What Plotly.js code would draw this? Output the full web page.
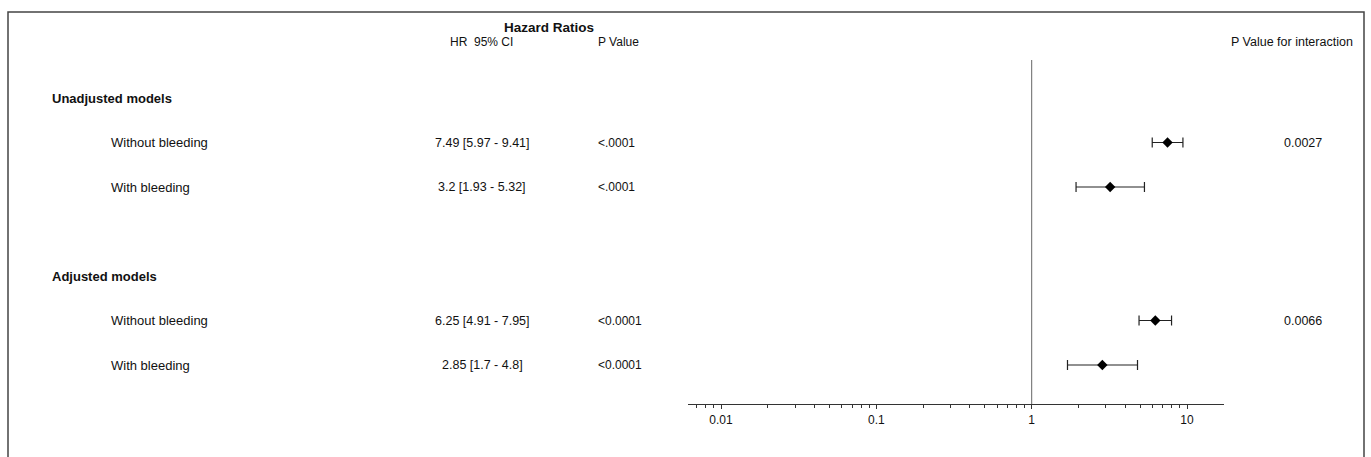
<!DOCTYPE html>
<html>
<head>
<meta charset="utf-8">
<script src="https://cdn.plot.ly/plotly-3.0.1.min.js"></script>
<style>html,body{margin:0;padding:0;background:#fff}#chart{width:1371px;height:457px}</style>
</head>
<body>
<div id="chart"></div>
<script>
// ---- data ----
const groups = ["Unadjusted models", "Adjusted models"];
const rowLabels = ["Without bleeding", "With bleeding", "Without bleeding", "With bleeding"];
const rowGroup = [0, 0, 1, 1];
const hr = [7.49, 3.2, 6.25, 2.85];
const ciLow = [5.97, 1.93, 4.91, 1.7];
const ciHigh = [9.41, 5.32, 7.95, 4.8];
const ciText = ["7.49 [5.97 - 9.41]", "3.2 [1.93 - 5.32]", "6.25 [4.91 - 7.95]", "2.85 [1.7 - 4.8]"];
const pValues = ["<.0001", "<.0001", "<0.0001", "<0.0001"];
const pInteraction = ["0.0027", "", "0.0066", ""];
const tickVals = [0.01, 0.1, 1, 10];
const tickLabels = ["0.01", "0.1", "1", "10"];
const refValue = 1;

// ---- layout helpers ----
const W = 1371, H = 457;
const px = v => v / W;
const groupRow = [0, 4];
const rowPos = [1, 2, 5, 6];

const FONT = "Liberation Sans, Arial, sans-serif";
const annotations = [];
function txt(text, x, y, anchor, size, bold, yref) {
  annotations.push({
    text: bold ? "<b>" + text + "</b>" : text,
    x: px(x), xref: "paper", y: y, yref: yref || "y",
    xanchor: anchor, yanchor: "middle", showarrow: false,
    font: {family: FONT, size: size, color: "#111"}
  });
}
// headers (paper y)
txt("Hazard Ratios", 549, 1 - 28 / H, "center", 13.5, true, "paper");
txt("HR  95% CI", 481, 1 - 42 / H, "center", 12, false, "paper");
txt("P Value", 596, 1 - 42 / H, "left", 12, false, "paper");
txt("P Value for interaction", 1355, 1 - 42 / H, "right", 12.5, false, "paper");

groups.forEach((g, i) => txt(g, 50, groupRow[i], "left", 13, true));
rowLabels.forEach((l, i) => {
  txt(l, 109, rowPos[i], "left", 13, false);
  txt(ciText[i], 482, rowPos[i], "center", 12.5, false);
  txt(pValues[i], 596, rowPos[i], "left", 12, false);
  if (pInteraction[i]) txt(pInteraction[i], 1303, rowPos[i], "center", 12.5, false);
});

const trace = {
  type: "scatter", mode: "markers",
  x: hr, y: rowPos,
  marker: {symbol: "diamond", size: 8, color: "#000"},
  error_x: {
    type: "data", symmetric: false,
    array: hr.map((v, i) => ciHigh[i] - v),
    arrayminus: hr.map((v, i) => v - ciLow[i]),
    color: "#222", thickness: 1.2, width: 5
  },
  hoverinfo: "x+y", showlegend: false
};

const yTop = -98 / 44.5, yBottom = 6 + (H - 365) / 44.5;
const axisY = 6 + (404 - 365) / 44.5;
const refTop = -(98 - 60) / 44.5;

const layout = {
  width: W, height: H,
  margin: {l: 0, r: 0, t: 0, b: 0},
  paper_bgcolor: "#fff", plot_bgcolor: "rgba(0,0,0,0)",
  showlegend: false,
  xaxis: {
    type: "log", domain: [px(688), px(1224)],
    range: [-2.2125, 1.238],
    tickmode: "array", tickvals: tickVals, ticktext: tickLabels,
    ticks: "outside", ticklen: 4, tickcolor: "#333", tickwidth: 1,
    minor: {ticks: "outside", ticklen: 2.5, tickcolor: "#333", dtick: "D1", showgrid: false},
    showgrid: false, zeroline: false,
    showline: true, linecolor: "#333", linewidth: 1.2,
    anchor: "free", position: (H - 404) / H,
    tickfont: {family: FONT, size: 12, color: "#111"},
    fixedrange: true
  },
  yaxis: {
    range: [yBottom, yTop], domain: [0, 1],
    visible: false, showgrid: false, zeroline: false, fixedrange: true
  },
  shapes: [
    {type: "line", xref: "x", yref: "y", x0: refValue, x1: refValue, y0: refTop, y1: axisY,
     line: {color: "#666", width: 1}},
    {type: "rect", xref: "paper", yref: "paper", x0: px(8), x1: px(1364), y0: -0.1, y1: 1 - 12 / H,
     line: {color: "#444", width: 1.5}, fillcolor: "rgba(0,0,0,0)"}
  ],
  annotations: annotations
};

Plotly.newPlot("chart", [trace], layout, {displayModeBar: false, staticPlot: true});
</script>
</body>
</html>
